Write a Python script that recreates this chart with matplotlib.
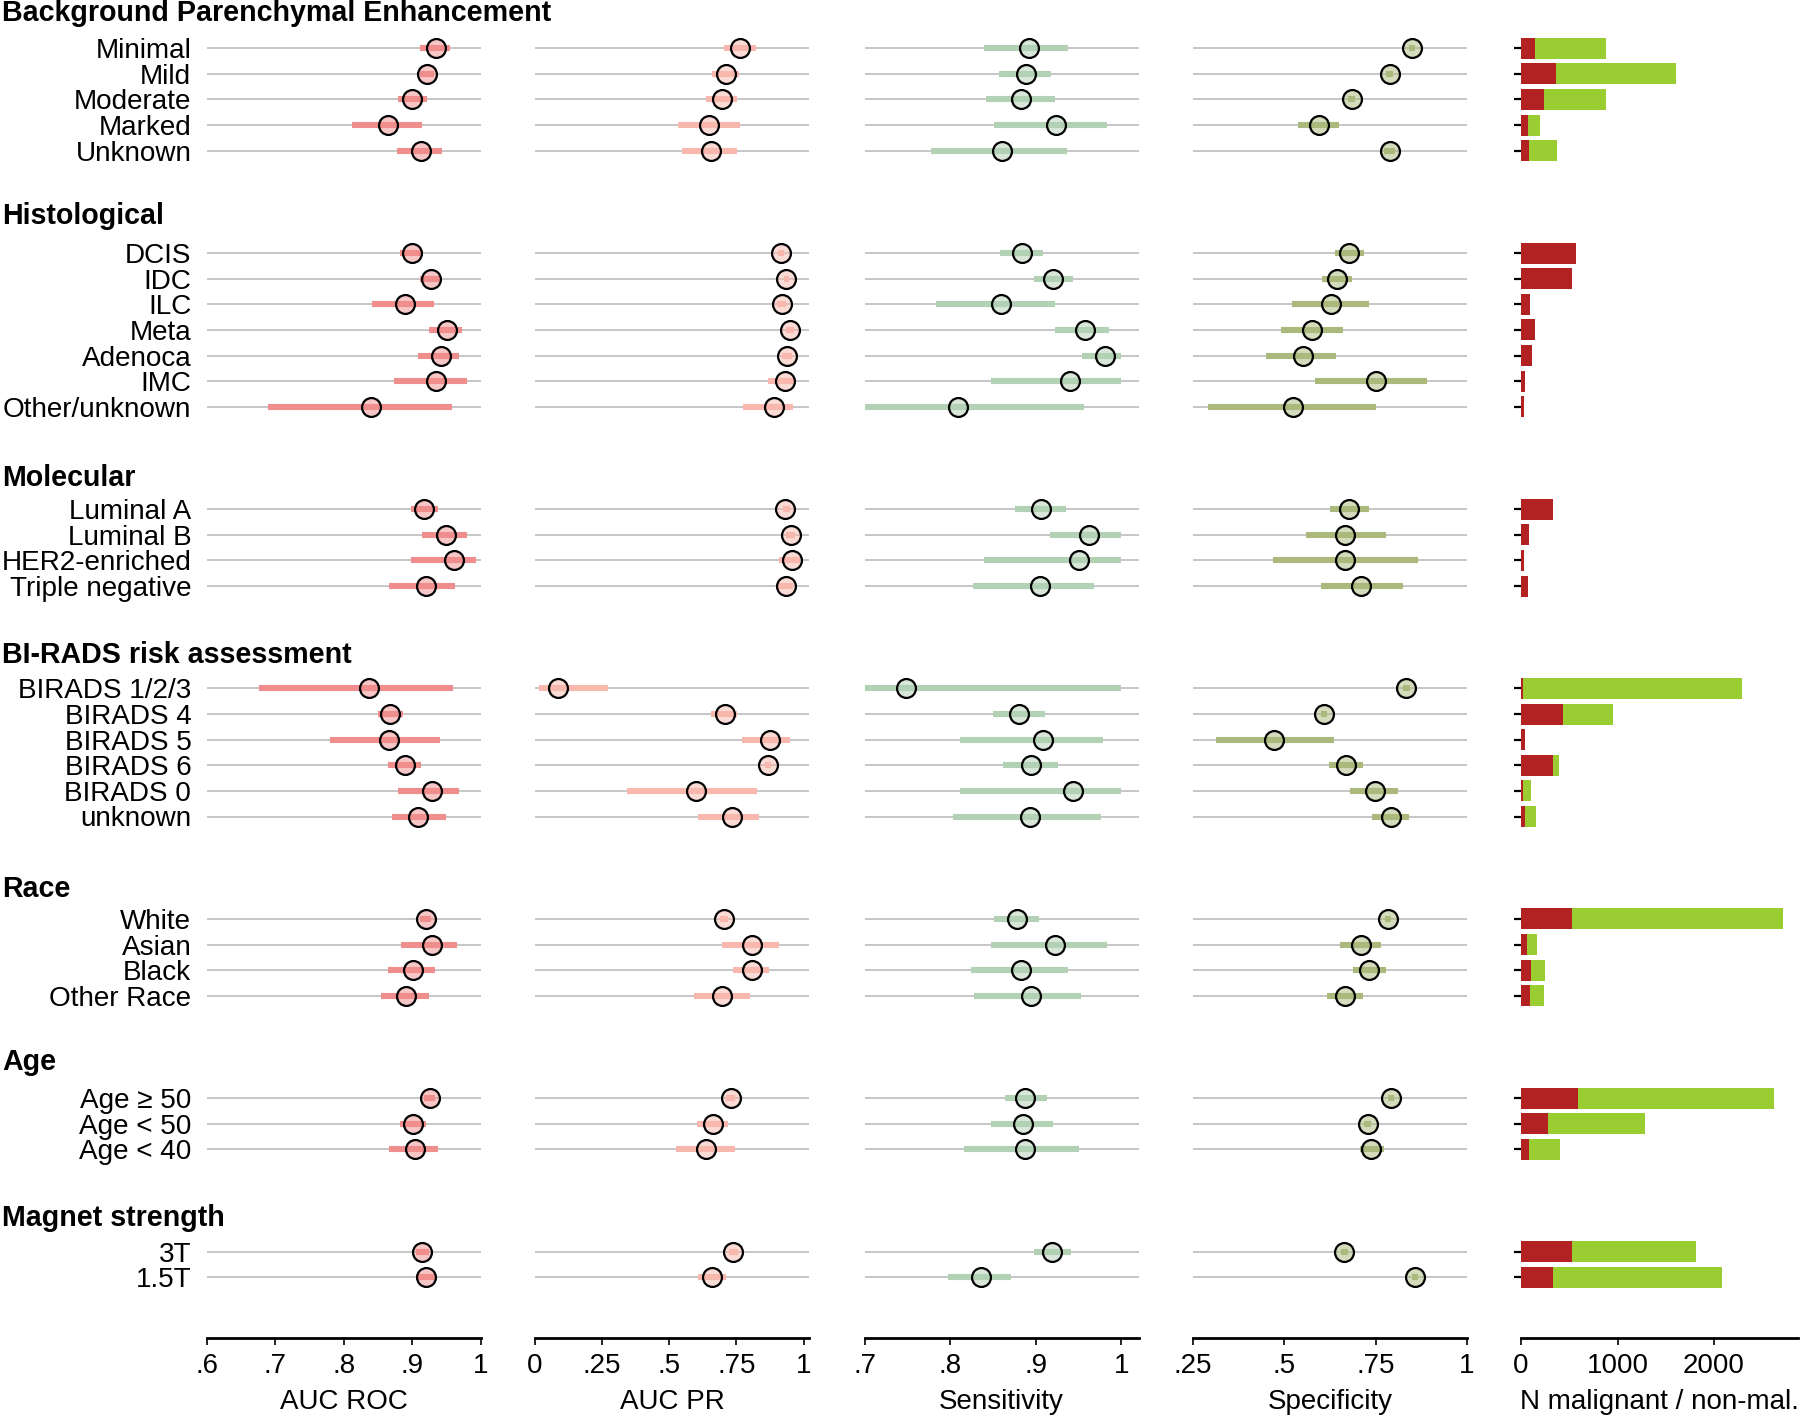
import matplotlib.pyplot as plt
from matplotlib.colors import to_rgba
from matplotlib.transforms import blended_transform_factory

plt.rcParams['font.family'] = ['Liberation Sans', 'DejaVu Sans']
plt.rcParams['font.size'] = 20

groups = ['Background Parenchymal Enhancement', 'Histological', 'Molecular',
          'BI-RADS risk assessment', 'Race', 'Age', 'Magnet strength']
group_labels = [
    ['Minimal', 'Mild', 'Moderate', 'Marked', 'Unknown'],
    ['DCIS', 'IDC', 'ILC', 'Meta', 'Adenoca', 'IMC', 'Other/unknown'],
    ['Luminal A', 'Luminal B', 'HER2-enriched', 'Triple negative'],
    ['BIRADS 1/2/3', 'BIRADS 4', 'BIRADS 5', 'BIRADS 6', 'BIRADS 0', 'unknown'],
    ['White', 'Asian', 'Black', 'Other Race'],
    ['Age \u2265 50', 'Age < 50', 'Age < 40'],
    ['3T', '1.5T'],
]
header_offset = [-1.05, -1.13, -0.9, -0.98, -0.84, -1.1, -1.0]

# AUC ROC
roc = [.935, .922, .900, .865, .913,
       .900, .927, .890, .951, .942, .935, .840,
       .918, .950, .961, .920,
       .837, .868, .866, .889, .929, .909,
       .920, .929, .901, .891,
       .926, .902, .904,
       .915, .920]
roc_lo = [.912, .912, .879, .812, .878,
          .882, .911, .841, .924, .908, .873, .690,
          .899, .914, .898, .867,
          .676, .850, .780, .865, .879, .871,
          .912, .884, .865, .854,
          .918, .883, .866,
          .905, .905]
roc_hi = [.956, .932, .922, .914, .943,
          .916, .940, .932, .973, .968, .980, .958,
          .938, .980, .994, .962,
          .960, .887, .940, .913, .968, .950,
          .928, .966, .934, .925,
          .934, .921, .938,
          .925, .935]

# AUC PR
pr = [.762, .711, .697, .649, .655,
      .916, .936, .918, .950, .939, .932, .888,
      .932, .952, .958, .933,
      .086, .707, .874, .867, .599, .733,
      .704, .808, .808, .696,
      .728, .661, .638,
      .738, .660]
pr_lo = [.703, .660, .638, .534, .549,
         .905, .926, .900, .935, .920, .868, .773,
         .922, .935, .910, .896,
         .015, .657, .772, .855, .344, .606,
         .690, .695, .738, .593,
         .712, .604, .524,
         .722, .608]
pr_hi = [.822, .760, .752, .762, .751,
         .927, .946, .935, .965, .957, .965, .962,
         .950, .968, .985, .960,
         .272, .753, .948, .880, .825, .835,
         .720, .907, .870, .799,
         .744, .717, .746,
         .754, .710]

# Sensitivity
sens = [.892, .889, .883, .924, .860,
        .884, .920, .859, .958, .981, .940, .809,
        .906, .962, .951, .905,
        .749, .881, .908, .894, .943, .893,
        .878, .922, .883, .894,
        .888, .885, .887,
        .919, .836]
sens_lo = [.840, .857, .842, .851, .778,
           .858, .898, .784, .923, .954, .848, .700,
           .876, .917, .839, .827,
           .700, .850, .812, .862, .812, .803,
           .851, .848, .824, .828,
           .864, .848, .816,
           .898, .797]
sens_hi = [.938, .918, .922, .983, .936,
           .908, .943, .922, .986, 1.0, 1.0, .956,
           .935, 1.0, 1.0, .968,
           1.0, .911, .979, .926, 1.0, .976,
           .904, .983, .938, .953,
           .913, .920, .951,
           .941, .871]

# Specificity
spec = [.849, .788, .684, .595, .788,
        .677, .643, .627, .577, .551, .750, .524,
        .677, .666, .666, .710,
        .834, .609, .471, .669, .748, .792,
        .784, .709, .731, .667,
        .793, .728, .738,
        .664, .858]
spec_lo = [.840, .778, .674, .538, .772,
           .638, .602, .520, .491, .450, .583, .291,
           .625, .559, .469, .599,
           .824, .600, .313, .623, .681, .740,
           .776, .653, .688, .618,
           .785, .718, .708,
           .655, .850]
spec_hi = [.858, .798, .694, .651, .802,
           .717, .686, .732, .661, .642, .891, .752,
           .732, .779, .865, .824,
           .844, .618, .636, .714, .810, .841,
           .792, .765, .777, .715,
           .801, .738, .772,
           .673, .866]

# N malignant / non-malignant
n_mal = [142, 362, 237, 69, 78,
         572, 524, 95, 142, 112, 44, 26,
         328, 83, 31, 69,
         21, 432, 45, 335, 24, 45,
         525, 65, 107, 93,
         587, 277, 79,
         532, 335]
n_nonmal = [739, 1241, 644, 125, 296,
            0, 0, 0, 0, 0, 0, 0,
            0, 0, 0, 0,
            2266, 518, 0, 56, 83, 107,
            2187, 101, 142, 149,
            2031, 1008, 322,
            1285, 1748]

metrics = [
    ('AUC ROC', roc, roc_lo, roc_hi, '#F08E8E', (0.6, 1.0),
     [.6, .7, .8, .9, 1], ['.6', '.7', '.8', '.9', '1']),
    ('AUC PR', pr, pr_lo, pr_hi, '#F9B8AE', (0, 1.02),
     [0, .25, .5, .75, 1], ['0', '.25', '.5', '.75', '1']),
    ('Sensitivity', sens, sens_lo, sens_hi, '#B2D1B5', (0.7, 1.02),
     [.7, .8, .9, 1], ['.7', '.8', '.9', '1']),
    ('Specificity', spec, spec_lo, spec_hi, '#ACB97D', (0.25, 1.0),
     [.25, .5, .75, 1], ['.25', '.5', '.75', '1']),
]

# row positions: groups separated by 3 empty rows
rows, labels, first_rows = [], [], []
r = 0
for g, labs in zip(groups, group_labels):
    first_rows.append(r)
    for lab in labs:
        rows.append(r)
        labels.append(lab)
        r += 1
    r += 3

W, H = 1800, 1416
fig = plt.figure(figsize=(W / 100, H / 100), dpi=100)
lefts = [206.6, 535, 864.5, 1193, 1521]
width = 274
bottom_px = 1338
row_h = 25.61
top_row = -48.2 / row_h
bot_row = top_row + bottom_px / row_h


def make_ax(left, w=width):
    ax = fig.add_axes([left / W, (H - bottom_px) / H, w / W, bottom_px / H])
    ax.set_ylim(bot_row, top_row)
    ax.patch.set_visible(False)
    for s in ['left', 'right', 'top']:
        ax.spines[s].set_visible(False)
    ax.spines['bottom'].set_linewidth(2)
    ax.tick_params(axis='x', direction='out', length=5, width=1.2, pad=6,
                   labelsize=20)
    return ax


axes = []
for i, (title, est, lo, hi, col, lim, ticks, ticklabs) in enumerate(metrics):
    ax = make_ax(lefts[i])
    ax.set_xlim(*lim)
    ax.hlines(rows, lim[0], lim[1], color='#C6C6C6', lw=1.4, zorder=1)
    ax.hlines(rows, lo, hi, color=col, lw=4.4, capstyle='butt', zorder=2)
    ax.scatter(est, rows, s=185, facecolors=[to_rgba(col, 0.5)],
               edgecolors='black', linewidths=1.6, zorder=3)
    ax.set_xticks(ticks)
    ax.set_xticklabels(ticklabs)
    ax.set_xlabel(title, fontsize=20, labelpad=7)
    if i == 0:
        ax.set_yticks(rows)
        ax.set_yticklabels(labels, fontsize=20.1)
        ax.tick_params(axis='y', length=0, pad=11)
    else:
        ax.set_yticks([])
    axes.append(ax)

# counts panel
ax5 = make_ax(lefts[4], 277)
ax5.set_xlim(0, 2870)
ax5.barh(rows, n_mal, height=0.82, color='#B22222', linewidth=0)
ax5.barh(rows, n_nonmal, left=n_mal, height=0.82, color='#9ACD32', linewidth=0)
ax5.set_xticks([0, 1000, 2000])
ax5.set_xticklabels(['0', '1000', '2000'])
ax5.set_yticks(rows)
ax5.set_yticklabels([])
ax5.tick_params(axis='y', length=4.7, width=1.6)
ax5.set_xlabel('N malignant / non-mal.', fontsize=20, labelpad=7)

# group headers
tr = blended_transform_factory(fig.transFigure, axes[0].transData)
for g, fr, off in zip(groups, first_rows, header_offset):
    fig.text(2 / W, fr + off, g, transform=tr, fontsize=20.6,
             fontweight='bold', ha='left', va='baseline', zorder=10)

fig.savefig('out.png', dpi=100)
